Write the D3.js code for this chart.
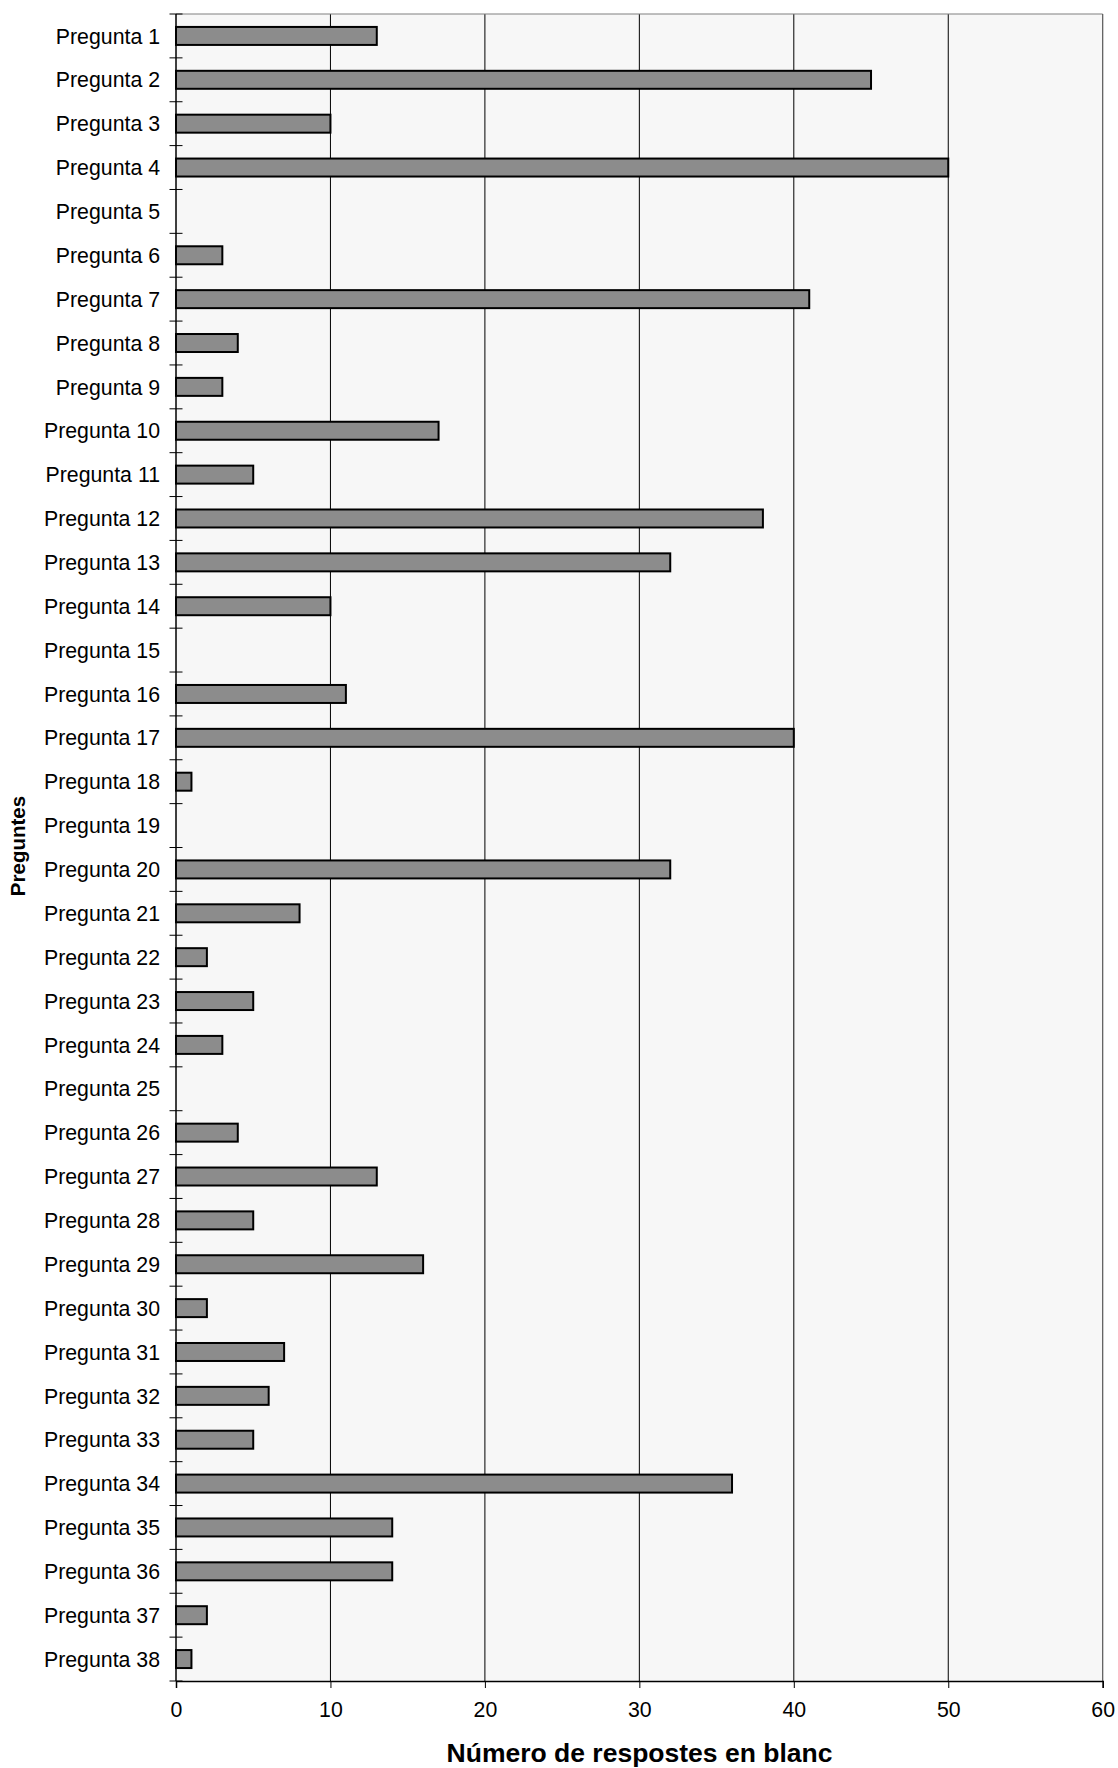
<!DOCTYPE html>
<html>
<head>
<meta charset="utf-8">
<script src="https://cdn.jsdelivr.net/npm/d3@7"></script>
<style>
  html, body { margin: 0; padding: 0; background: #ffffff; }
  svg { display: block; font-family: "Liberation Sans", Arial, sans-serif; }
</style>
</head>
<body>
<svg id="chart" width="1118" height="1768"></svg>
<script>
// Blank answers per question
const questions = [
  "Pregunta 1", "Pregunta 2", "Pregunta 3", "Pregunta 4", "Pregunta 5",
  "Pregunta 6", "Pregunta 7", "Pregunta 8", "Pregunta 9", "Pregunta 10",
  "Pregunta 11", "Pregunta 12", "Pregunta 13", "Pregunta 14", "Pregunta 15",
  "Pregunta 16", "Pregunta 17", "Pregunta 18", "Pregunta 19", "Pregunta 20",
  "Pregunta 21", "Pregunta 22", "Pregunta 23", "Pregunta 24", "Pregunta 25",
  "Pregunta 26", "Pregunta 27", "Pregunta 28", "Pregunta 29", "Pregunta 30",
  "Pregunta 31", "Pregunta 32", "Pregunta 33", "Pregunta 34", "Pregunta 35",
  "Pregunta 36", "Pregunta 37", "Pregunta 38"
];
const blankCounts = [
  13, 45, 10, 50, 0,
  3, 41, 4, 3, 17,
  5, 38, 32, 10, 0,
  11, 40, 1, 0, 32,
  8, 2, 5, 3, 0,
  4, 13, 5, 16, 2,
  7, 6, 5, 36, 14,
  14, 2, 1
];
const xTicks = [0, 10, 20, 30, 40, 50, 60];
const xTitle = "Número de respostes en blanc";
const yTitle = "Preguntes";

const FONT = "'Liberation Sans', Arial, sans-serif";
const svg = d3.select("#chart");
const plot = { left: 176, right: 1102.7, top: 14, bottom: 1681 };

const x = d3.scaleLinear().domain([0, 60]).range([plot.left, plot.right]);
const y = d3.scaleBand().domain(questions).range([plot.top, plot.bottom]).padding(0);
const bw = y.bandwidth();
const barH = bw * 0.41;

// plot background
svg.append("rect")
  .attr("x", plot.left).attr("y", plot.top)
  .attr("width", plot.right - plot.left).attr("height", plot.bottom - plot.top)
  .attr("fill", "#f7f7f7");

// vertical gridlines
svg.append("g").selectAll("line")
  .data(xTicks.filter(d => d > 0 && d < 60))
  .join("line")
  .attr("x1", d => x(d)).attr("x2", d => x(d))
  .attr("y1", plot.top).attr("y2", plot.bottom)
  .attr("stroke", "#000").attr("stroke-width", 1);

// frame top and right
svg.append("line")
  .attr("x1", plot.left).attr("x2", plot.right)
  .attr("y1", plot.top).attr("y2", plot.top)
  .attr("stroke", "#808080").attr("stroke-width", 1.2);
svg.append("line")
  .attr("x1", plot.right).attr("x2", plot.right)
  .attr("y1", plot.top).attr("y2", plot.bottom)
  .attr("stroke", "#555").attr("stroke-width", 1.2);

// bars
svg.append("g").selectAll("rect")
  .data(questions.map((q, i) => ({ q, v: blankCounts[i] })).filter(d => d.v > 0))
  .join("rect")
  .attr("x", x(0))
  .attr("y", d => y(d.q) + (bw - barH) / 2)
  .attr("width", d => x(d.v) - x(0))
  .attr("height", barH)
  .attr("fill", "#8c8c8c")
  .attr("stroke", "#000")
  .attr("stroke-width", 2);

// y axis line and ticks at category boundaries
svg.append("line")
  .attr("x1", plot.left).attr("x2", plot.left)
  .attr("y1", plot.top).attr("y2", plot.bottom)
  .attr("stroke", "#000").attr("stroke-width", 1.5);
const boundaries = questions.map(q => y(q)).concat([plot.bottom]);
svg.append("g").selectAll("line")
  .data(boundaries)
  .join("line")
  .attr("x1", plot.left - 6.5).attr("x2", plot.left + 6.5)
  .attr("y1", d => d).attr("y2", d => d)
  .attr("stroke", "#000").attr("stroke-width", 1);

// category labels
svg.append("g").selectAll("text")
  .data(questions)
  .join("text")
  .attr("x", 160)
  .attr("y", d => y(d) + bw / 2)
  .attr("dy", "0.36em")
  .attr("text-anchor", "end")
  .attr("font-family", FONT)
  .attr("font-size", "21.3px")
  .attr("fill", "#000")
  .text(d => d);

// x axis
const xAxis = d3.axisBottom(x).tickValues(xTicks).tickSize(7).tickPadding(14)
  .tickFormat(d3.format("d"));
const gx = svg.append("g")
  .attr("transform", `translate(0,${plot.bottom})`)
  .call(xAxis);
gx.select(".domain").attr("stroke", "#000").attr("stroke-width", 1.5);
gx.selectAll(".tick line").attr("stroke", "#000").attr("stroke-width", 1);
gx.selectAll(".tick text")
  .attr("font-family", FONT)
  .attr("font-size", "21.3px").attr("fill", "#000");

// axis titles
svg.append("text")
  .attr("x", 639.5).attr("y", 1762)
  .attr("text-anchor", "middle")
  .attr("font-family", FONT)
  .attr("font-size", "26.5px").attr("font-weight", "bold")
  .text(xTitle);

svg.append("text")
  .attr("transform", "translate(25,846) rotate(-90)")
  .attr("text-anchor", "middle")
  .attr("font-family", FONT)
  .attr("font-size", "20.5px").attr("font-weight", "bold")
  .text(yTitle);
</script>
</body>
</html>
